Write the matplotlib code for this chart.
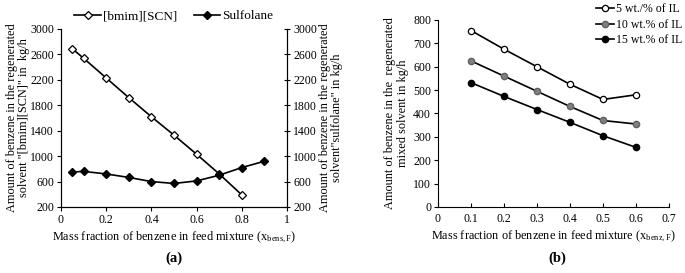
import matplotlib
matplotlib.use("Agg")
import matplotlib.pyplot as plt

plt.rcParams['font.family'] = ['Liberation Serif', 'DejaVu Serif']
plt.rcParams['mathtext.fontset'] = 'custom'
plt.rcParams['mathtext.rm'] = 'Liberation Serif'
plt.rcParams['mathtext.it'] = 'Liberation Serif:italic'
plt.rcParams['font.size'] = 8.5

# (a) data
x_bmim = [0.05, 0.1, 0.2, 0.3, 0.4, 0.5, 0.6, 0.7, 0.8]
y_bmim = [2690, 2540, 2230, 1920, 1620, 1330, 1030, 720, 390]
x_sulf = [0.05, 0.1, 0.2, 0.3, 0.4, 0.5, 0.6, 0.7, 0.8, 0.9]
y_sulf = [750, 760, 720, 665, 600, 570, 610, 700, 820, 920]
ticks_a = [200, 600, 1000, 1400, 1800, 2200, 2600, 3000]

# (b) data
x_mix = [0.1, 0.2, 0.3, 0.4, 0.5, 0.6]
y_5 = [755, 675, 600, 525, 460, 480]
y_10 = [625, 560, 495, 430, 370, 355]
y_15 = [532, 473, 417, 362, 305, 255]

fig = plt.figure(figsize=(6.85, 2.73), dpi=100)

# ---------- panel (a) ----------
ax1 = fig.add_axes([0.089, 0.2418, 0.330, 0.652])
l1, = ax1.plot(x_bmim, y_bmim, color='black', lw=1.2, marker='D', ms=4,
               mfc='white', mec='black', mew=0.9, label='[bmim][SCN]')
ax1.set_xlim(0, 1)
ax1.set_ylim(200, 3000)
ax1.set_yticks(ticks_a)
ax1.set_xticks([0, 0.2, 0.4, 0.6, 0.8, 1])
ax1.set_xticklabels(['0', '0.2', '0.4', '0.6', '0.8', '1'])
ax1.spines['top'].set_visible(False)
ax1.tick_params(direction='out', length=3, width=0.8, pad=2)
ax1.set_ylabel('Amount of benzene in the regenerated\nsolvent "[bmim][SCN]" in  kg/h',
               labelpad=0, linespacing=1.05, fontsize=8.8)
ax1.set_xlabel('Mass fraction of benzene in feed mixture (x$_{\\mathrm{bens,F}}$)',
               labelpad=3, fontsize=8.8)

ax2 = ax1.twinx()
l2, = ax2.plot(x_sulf, y_sulf, color='black', lw=1.2, marker='D', ms=4,
               mfc='black', mec='black', label='Sulfolane')
ax2.set_ylim(200, 3000)
ax2.set_yticks(ticks_a)
ax2.spines['top'].set_visible(False)
ax2.tick_params(direction='inout', length=5, width=0.8, pad=2)
ax2.set_ylabel('Amount of benzene in the regenerated\nsolvent"sulfolane" in kg/h',
               labelpad=1, linespacing=1.05, fontsize=8.8)

ax1.legend(handles=[l1, l2], loc='lower center', bbox_to_anchor=(0.5, 1.0),
           ncol=2, frameon=False, handlelength=2.0, columnspacing=1.2,
           handletextpad=0.2, borderaxespad=0.1, fontsize=9.5)
fig.text(0.254, 0.055, '(a)', ha='center', va='center', fontsize=10.5, fontweight='bold')

# ---------- panel (b) ----------
ax3 = fig.add_axes([0.6394, 0.2418, 0.3372, 0.685])
ax3.plot(x_mix, y_5, color='black', lw=1.2, marker='o', ms=4.5,
         mfc='white', mec='black', mew=0.9, label='5 wt./% of IL')
ax3.plot(x_mix, y_10, color='black', lw=1.2, marker='o', ms=4.5,
         mfc='#808080', mec='#606060', label='10 wt.% of IL')
ax3.plot(x_mix, y_15, color='black', lw=1.2, marker='o', ms=4.5,
         mfc='black', mec='black', label='15 wt.% of IL')
ax3.set_xlim(0, 0.7)
ax3.set_ylim(0, 800)
ax3.set_xticks([0, 0.1, 0.2, 0.3, 0.4, 0.5, 0.6, 0.7])
ax3.set_xticklabels(['0', '0.1', '0.2', '0.3', '0.4', '0.5', '0.6', '0.7'])
ax3.set_yticks(range(0, 801, 100))
ax3.spines['top'].set_visible(False)
ax3.spines['right'].set_visible(False)
ax3.tick_params(axis='y', direction='out', length=3, width=0.8, pad=2)
ax3.tick_params(axis='x', direction='in', length=3, width=0.8, pad=4)
ax3.set_ylabel('Amount of benzene in the  regenerated\nmixed solvent in kg/h',
               labelpad=3, linespacing=1.05, fontsize=8.8)
ax3.set_xlabel('Mass fraction of benzene in feed mixture (x$_{\\mathrm{benz,F}}$)',
               labelpad=3, fontsize=8.8)
ax3.legend(loc='upper left', bbox_to_anchor=(0.665, 1.115), frameon=False,
           handlelength=1.5, fontsize=8.5, labelspacing=0.3, handletextpad=0.2,
           borderaxespad=0.0)
fig.text(0.813, 0.055, '(b)', ha='center', va='center', fontsize=10.5, fontweight='bold')

fig.savefig('out.png', dpi=100)
